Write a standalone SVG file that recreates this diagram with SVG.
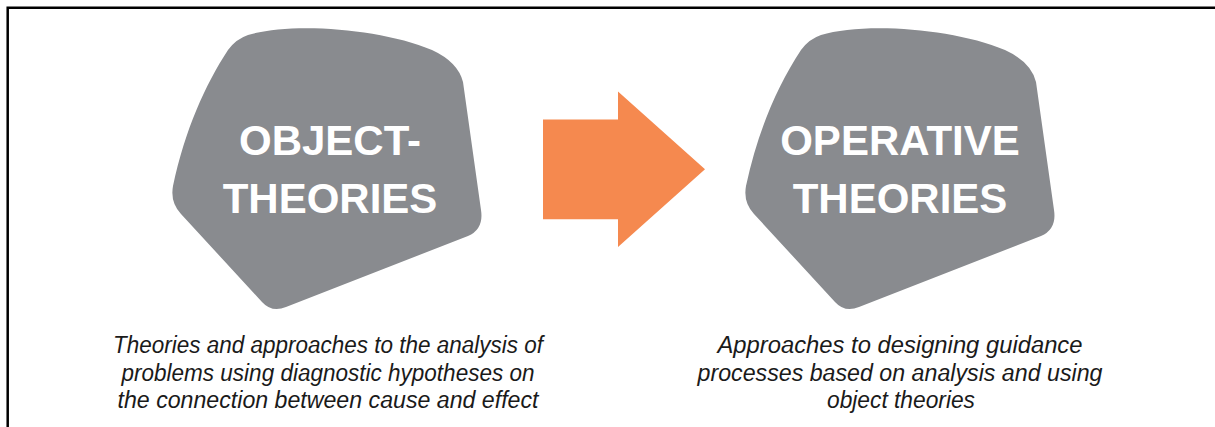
<svg xmlns="http://www.w3.org/2000/svg" width="1215" height="427" viewBox="0 0 1215 427">
  <style>
    .blob { fill: #898b8f; }
    .title { font-family: "Liberation Sans", Arial, sans-serif; font-weight: bold; font-size: 42px; fill: #ffffff; text-anchor: middle; }
    .caption { font-family: "Liberation Sans", Arial, sans-serif; font-style: italic; font-size: 23px; fill: #1a1a1a; text-anchor: middle; }
    .frame { fill: none; stroke: #000000; stroke-width: 2.5; }
    .arrow { fill: #f5894f; }
  </style>
  <defs>
    <path id="blobShape" d="M 248,35 C 290,22 380,28 432,50 Q 458,62 463,82 L 481,210 Q 484,229 468,236 L 286,307 Q 272,313 262,302 L 181,214 Q 170,202 173,186 C 185,130 205,85 228,50 Q 236,39 248,35 Z"/>
  </defs>
  <rect width="1215" height="427" fill="#ffffff"/>
  <path class="frame" d="M 7.7,427 L 7.7,7.7 L 1215,7.7"/>
  <g id="node-object-theories">
    <use href="#blobShape" class="blob"/>
    <text class="title" x="330" y="155">OBJECT-</text>
    <text class="title" x="330" y="213">THEORIES</text>
    <text class="caption" x="328" y="353" textLength="430" lengthAdjust="spacingAndGlyphs">Theories and approaches to the analysis of</text>
    <text class="caption" x="328" y="381" textLength="413" lengthAdjust="spacingAndGlyphs">problems using diagnostic hypotheses on</text>
    <text class="caption" x="328" y="408" textLength="421" lengthAdjust="spacingAndGlyphs">the connection between cause and effect</text>
  </g>
  <g id="node-operative-theories">
    <use href="#blobShape" class="blob" transform="translate(573,0)"/>
    <text class="title" x="900" y="155">OPERATIVE</text>
    <text class="title" x="900" y="213">THEORIES</text>
    <text class="caption" x="900" y="353" textLength="365" lengthAdjust="spacingAndGlyphs">Approaches to designing guidance</text>
    <text class="caption" x="900" y="381" textLength="405" lengthAdjust="spacingAndGlyphs">processes based on analysis and using</text>
    <text class="caption" x="901" y="408" textLength="148" lengthAdjust="spacingAndGlyphs">object theories</text>
  </g>
  <g id="connectors">
    <path class="arrow" d="M 543,119.5 L 618,119.5 L 618,91.5 L 705,169.3 L 618,247 L 618,219.3 L 543,219.3 Z"/>
  </g>
</svg>
